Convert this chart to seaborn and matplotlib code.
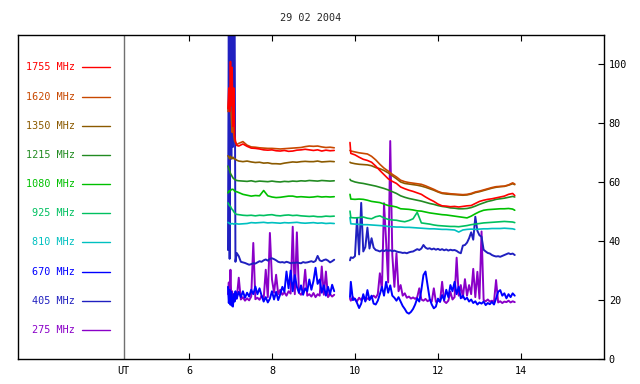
import numpy as np
import pandas as pd
import seaborn as sns
import matplotlib
matplotlib.use("Agg")
import matplotlib.pyplot as plt
import matplotlib.transforms as mtransforms

# channel names and colours (legend order, top to bottom)
freqs = ["1755 MHz", "1620 MHz", "1350 MHz", "1215 MHz", "1080 MHz",
         "925 MHz", "810 MHz", "670 MHz", "405 MHz", "275 MHz"]
colors = ["#ff0000", "#c84800", "#8b5a00", "#228b22", "#00c000",
          "#00c060", "#00c0c0", "#0000ff", "#2020c0", "#8a00c8"]

# time grids (UT hours)
t_burst = [6.94, 6.96, 6.98, 7.00, 7.02, 7.04, 7.06, 7.08, 7.10, 7.12]
t1_coarse = t_burst + [7.15, 7.2, 7.3, 7.4, 7.5, 7.6, 7.7, 7.8, 7.9, 8.0,
                       8.1, 8.2, 8.3, 8.4, 8.5, 8.6, 8.7, 8.8, 8.9, 9.0,
                       9.1, 9.2, 9.3, 9.4, 9.5]
t2_coarse = [9.88, 9.9] + list(np.round(np.arange(10.0, 13.85, 0.1), 1)) + [13.85]
t1_fine = t_burst + list(np.round(np.arange(7.15, 9.51, 0.05), 2))
t2_fine = [9.88] + list(np.round(np.arange(9.90, 13.86, 0.05), 2))

# smooth channels: first block, second block
s1755_a = [85, 92, 84, 101, 86, 99, 79, 92, 76, 74,
           72.5, 72.3, 73.0, 72.2, 71.6, 71.5, 71.3, 71.0, 70.9, 71.0,
           70.7, 70.6, 70.8, 70.5, 70.6, 70.9, 71.0, 71.2, 71.0, 70.8,
           71.0, 70.6, 70.9, 70.7, 70.8]
s1755_b = [73.5, 69.8,
           69.3, 68.5, 67.8, 67.4, 66.8, 65.5, 64.0, 62.6, 61.2, 60.3,
           59.6, 58.4, 57.8, 57.3, 56.9, 56.4, 55.9, 55.0, 54.2, 53.5,
           52.6, 52.0, 51.9, 51.7, 51.8, 51.6, 51.8, 52.0, 52.1, 52.8,
           53.5, 53.9, 54.2, 54.4, 54.7, 55.0, 55.3, 55.9, 56.2, 55.5]
s1620_a = [84, 88, 85, 88, 82, 77, 80, 76, 74, 73.5,
           72.8, 73.2, 73.8, 72.6, 72.0, 71.9, 71.7, 71.6, 71.5, 71.5,
           71.4, 71.3, 71.4, 71.5, 71.6, 71.7, 71.8, 72.1, 72.3, 72.2,
           72.3, 72.0, 71.8, 71.9, 71.7]
s1620_b = [70.8, 70.6,
           70.3, 70.0, 69.8, 69.6, 68.8, 67.6, 66.1, 64.8, 63.8, 62.7,
           61.8, 60.7, 60.2, 59.9, 59.7, 59.5, 59.3, 58.8, 58.2, 57.6,
           56.9, 56.4, 56.3, 56.1, 56.0, 55.9, 55.8, 55.9, 56.2, 56.7,
           57.0, 57.4, 57.8, 58.2, 58.5, 58.6, 58.7, 59.1, 59.8, 59.4]
s1350_a = [69.0, 68.5, 68.0, 68.8, 68.3, 68.0, 68.5, 68.0, 68.0, 67.8,
           67.5, 67.2, 67.0, 67.2, 66.9, 66.7, 66.8, 66.5, 66.6, 66.3,
           66.3, 66.2, 66.5, 66.7, 66.9, 66.8, 67.0, 67.1, 67.0, 67.0,
           67.2, 66.9, 67.0, 67.1, 67.0]
s1350_b = [66.8, 66.6,
           66.3, 66.1, 66.0, 65.9, 65.6, 65.0, 64.6, 64.0, 63.2, 62.2,
           61.2, 60.1, 59.6, 59.4, 59.2, 59.0, 58.7, 58.3, 57.8, 57.3,
           56.7, 56.2, 56.0, 55.9, 55.8, 55.7, 55.6, 55.7, 56.0, 56.5,
           56.8, 57.2, 57.6, 58.0, 58.3, 58.5, 58.6, 59.0, 59.5, 59.2]
s1215_a = [65.5, 64.5, 64.0, 63.0, 62.5, 62.0, 61.5, 61.2, 61.0, 60.8,
           60.6, 60.5, 60.4, 60.3, 60.5, 60.2, 60.4, 60.3, 60.2, 60.4,
           60.2, 60.1, 60.3, 60.2, 60.4, 60.3, 60.5, 60.4, 60.6, 60.5,
           60.4, 60.6, 60.5, 60.4, 60.5]
s1215_b = [61.0, 60.6,
           60.1, 59.8, 59.6, 59.3, 59.0, 58.7, 58.3, 57.9, 57.4, 56.8,
           56.2, 55.4, 54.9, 54.5, 54.2, 53.9, 53.6, 53.2, 52.8, 52.5,
           52.1, 51.8, 51.6, 51.3, 51.2, 51.0, 51.0, 51.1, 51.4, 51.9,
           52.5, 53.0, 53.5, 53.8, 54.2, 54.4, 54.6, 54.9, 55.2, 55.0]
s1080_a = [56.4, 57.0, 56.8, 57.2, 57.5, 57.6, 57.6, 57.4, 57.0, 56.8,
           56.8, 56.5, 55.9, 55.6, 55.3, 55.5, 55.4, 57.2, 55.4, 55.0,
           54.8, 54.9, 55.1, 55.3, 55.3, 55.0, 55.1, 55.0, 54.9, 55.0,
           55.2, 55.0, 55.1, 55.0, 55.1]
s1080_b = [55.9, 54.3,
           54.2, 54.3, 54.2, 53.9, 53.5, 53.3, 53.1, 52.6, 52.1, 51.9,
           51.6, 51.0, 50.9, 50.8, 50.6, 50.3, 50.2, 49.9, 49.6, 49.4,
           49.2, 49.0, 48.9, 48.7, 48.5, 48.3, 48.1, 47.9, 48.5, 49.3,
           50.0, 50.5, 50.7, 50.8, 50.9, 51.0, 51.0, 51.1, 50.9, 50.5]
s925_a = [53.0, 52.5, 52.0, 51.8, 51.2, 50.8, 50.5, 50.0, 49.6, 49.3,
          49.1, 49.0, 48.8, 48.7, 48.8, 48.6, 48.8, 48.7, 48.9, 49.0,
          48.7, 48.6, 48.8, 48.9, 48.7, 48.8, 48.6, 48.5, 48.4, 48.5,
          48.3, 48.3, 48.5, 48.4, 48.5]
s925_b = [50.2, 48.0,
          47.9, 48.0, 48.2, 47.8, 47.6, 48.3, 48.6, 47.9, 47.4, 47.2,
          47.1, 46.8, 46.6, 47.0, 47.6, 49.8, 46.2, 46.0, 45.8, 45.5,
          45.3, 45.2, 45.1, 45.0, 45.0, 44.9, 45.1, 45.3, 45.6, 45.8,
          46.0, 46.2, 46.3, 46.4, 46.5, 46.6, 46.7, 46.6, 46.5, 46.3]
s810_a = [46.4, 46.2, 46.0, 45.8, 45.9, 46.0, 45.9, 45.8, 45.9, 46.0,
          45.9, 45.8, 45.9, 46.0, 46.3, 46.2, 46.3, 46.4, 46.2, 46.3,
          46.2, 46.1, 46.3, 46.2, 46.3, 46.4, 46.2, 46.1, 46.2, 46.3,
          46.1, 46.2, 46.0, 46.1, 46.0]
s810_b = [48.0, 45.9,
          45.8, 45.7, 45.6, 45.6, 45.5, 45.4, 45.3, 45.2, 45.0, 44.9,
          44.8, 44.8, 44.7, 44.7, 44.6, 44.5, 44.4, 44.3, 44.2, 44.2,
          44.1, 44.0, 44.0, 43.9, 43.8, 43.1, 43.8, 44.0, 44.1, 44.0,
          44.1, 44.2, 44.2, 44.3, 44.3, 44.3, 44.4, 44.3, 44.2, 44.0]

# noisy channels (finer sampling)
s670_a = [24.5, 19.0, 23.5, 18.4, 22.8, 18.0, 17.8, 22.0, 19.5, 23.0,
          20.5, 22.8, 21.0, 23.0, 20.8, 22.5, 21.2, 23.5, 22.0, 24.6,
          22.0, 24.0, 21.5, 19.5, 21.0, 19.2, 20.5, 23.0, 20.2, 22.8,
          20.0, 22.0, 24.5, 22.8, 29.7, 24.0, 30.0, 23.0, 28.5, 24.5,
          22.5, 25.0, 21.8, 24.0, 23.0, 27.0, 23.5, 26.5, 31.0, 25.5,
          27.0, 22.5, 25.0, 21.5, 24.5, 22.0, 25.2, 23.0]
s670_b = [21.0,
          26.2, 20.0, 20.5, 19.0, 17.3, 18.8, 22.0, 19.5, 23.4, 20.0,
          21.5, 18.8, 18.5, 19.8, 22.0, 24.5, 21.5, 26.2, 22.5, 25.0,
          21.5, 20.8, 19.8, 21.0, 19.5, 18.0, 17.0, 15.8, 15.4, 16.0,
          17.0, 18.5, 20.6, 19.5, 23.5, 28.5, 29.7, 25.0, 20.5, 18.5,
          17.2, 17.8, 20.5, 19.4, 21.7, 20.0, 23.5, 21.0, 25.1, 23.0,
          26.2, 22.0, 24.5, 20.6, 21.5, 20.2, 20.8, 19.5, 20.2, 19.0,
          19.6, 18.5, 19.2, 18.8, 19.5, 18.3, 19.0, 18.6, 19.4, 18.5,
          20.5, 22.8, 23.4, 21.5, 22.3, 20.6, 22.0, 21.0, 22.3, 21.5]
s405_a = [37, 120, 34, 120, 68, 120, 72, 120, 120, 33,
          36.0, 34.9, 33.0, 32.8, 32.6, 32.3, 32.0, 32.2, 32.5, 32.4,
          32.8, 33.2, 33.0, 33.5, 33.8, 33.4, 34.0, 34.2, 33.9, 33.5,
          33.0, 32.8, 32.9, 32.7, 33.0, 32.8, 32.5, 32.7, 32.6, 32.8,
          32.6, 32.5, 32.9, 32.7, 32.8, 33.0, 33.2, 32.9, 33.3, 35.0,
          33.5, 33.2, 33.6, 33.8, 33.4, 32.8, 33.2, 33.7]
s405_b = [33.5,
          34.5, 34.3, 34.9, 47.8, 35.5, 53.0, 36.5, 38.0, 44.6, 37.5,
          41.0, 37.8, 37.0, 36.8, 36.5, 36.9, 36.6, 37.0, 36.7, 36.9,
          36.6, 36.8, 36.5, 36.3, 36.2, 36.0, 36.1, 35.9, 36.2, 36.4,
          36.5, 36.9, 37.3, 37.0, 37.5, 38.7, 37.8, 37.4, 37.6, 37.2,
          37.5, 37.1, 37.4, 37.0, 37.3, 36.9, 37.2, 36.8, 37.1, 36.9,
          37.0, 36.7, 36.2, 35.9, 38.5, 38.7, 39.5, 41.0, 43.0, 40.5,
          48.3, 43.5, 42.0, 41.5, 37.1, 36.5, 36.0, 35.8, 35.3, 35.0,
          34.8, 34.9, 34.7, 35.0, 35.3, 35.6, 35.9, 35.6, 35.8, 35.3]
s275_a = [22, 26, 21, 30.3, 20.5, 23, 19.5, 22, 20, 21.5,
          20.5, 27.6, 20.2, 21.0, 19.8, 20.6, 19.9, 21.2, 39.4, 20.3,
          20.8, 20.1, 21.5, 20.4, 30.3, 21.0, 42.8, 27.0, 22.5, 28.6,
          22.0, 23.5, 21.8, 22.6, 21.5, 23.0, 22.2, 44.9, 22.0, 43.0,
          22.5, 21.8, 23.0, 30.3, 21.5, 22.0, 21.2, 22.4, 21.0, 22.0,
          21.5, 31.4, 21.8, 29.7, 21.0, 22.0, 21.2, 21.8]
s275_b = [20.5,
          19.8, 21.0, 20.2, 19.6, 20.8, 20.0, 21.2, 19.8, 20.6, 20.3,
          20.9, 21.5, 20.8, 22.0, 29.1, 23.5, 52.9, 40.1, 26.0, 74.0,
          35.3, 24.5, 35.9, 23.0, 25.1, 21.5, 22.3, 20.8, 21.2, 20.5,
          20.9, 20.4, 21.0, 24.0, 20.2, 19.8, 20.4, 19.6, 20.1, 19.5,
          24.0, 19.4, 19.8, 19.5, 26.2, 19.6, 19.0, 19.8, 22.8, 20.2,
          21.0, 34.4, 21.5, 25.1, 20.8, 27.1, 21.5, 25.1, 22.0, 30.6,
          21.0, 29.6, 20.5, 43.3, 20.0, 19.6, 20.2, 19.5, 19.8, 19.4,
          26.8, 19.2, 19.6, 19.0, 19.5, 19.3, 19.8, 19.2, 19.6, 19.3]

smooth = {"1755 MHz": (s1755_a, s1755_b), "1620 MHz": (s1620_a, s1620_b),
          "1350 MHz": (s1350_a, s1350_b), "1215 MHz": (s1215_a, s1215_b),
          "1080 MHz": (s1080_a, s1080_b), "925 MHz": (s925_a, s925_b),
          "810 MHz": (s810_a, s810_b)}
noisy = {"670 MHz": (s670_a, s670_b), "405 MHz": (s405_a, s405_b),
         "275 MHz": (s275_a, s275_b)}

rows = []


def add(name, seg, ts, vs):
    if len(ts) != len(vs):
        raise ValueError(f"{name} seg {seg}: {len(ts)} times vs {len(vs)} values")
    for t, v in zip(ts, vs):
        rows.append((name, seg, t, v))


for name, (a, b) in smooth.items():
    add(name, 1, t1_coarse, a)
    add(name, 2, t2_coarse, b)
for name, (a, b) in noisy.items():
    add(name, 1, t1_fine, a)
    add(name, 2, t2_fine, b)

df = pd.DataFrame(rows, columns=["freq", "seg", "t", "v"])
pal = dict(zip(freqs, colors))

sns.set_style("white")
plt.rcParams["font.family"] = ["DejaVu Sans Mono"]
fs = 7.3

fig = plt.figure(figsize=(6.4, 3.84), dpi=100)
ax = fig.add_axes([0.0281, 0.0651, 0.9156, 0.8438])

# low frequencies first so the high ones sit on top
sns.lineplot(data=df[df["freq"].isin(noisy.keys())], x="t", y="v", hue="freq",
             units="seg", estimator=None, sort=False, palette=pal,
             hue_order=["275 MHz", "405 MHz", "670 MHz"], legend=False,
             lw=1.4, ax=ax)
sns.lineplot(data=df[df["freq"].isin(smooth.keys())], x="t", y="v", hue="freq",
             units="seg", estimator=None, sort=False, palette=pal,
             hue_order=freqs[:7][::-1], legend=False, lw=1.2, ax=ax)

ax.axvline(4.43, color="#707070", lw=1)

# channel key on the left
trans = mtransforms.blended_transform_factory(ax.transAxes, ax.transData)
for i, (name, col) in enumerate(zip(freqs, colors)):
    y = 99 - 9.9 * i
    ax.text(0.0973, y, name, color=col, ha="right", va="center",
            transform=trans, fontsize=fs)
    ax.plot([0.109, 0.157], [y, y], color=col, lw=1, transform=trans)

ax.set_xlim(1.88, 16.0)
ax.set_ylim(0, 110)
ax.set_xticks([4.43, 6, 8, 10, 12, 14])
ax.set_xticklabels(["UT", "6", "8", "10", "12", "14"])
ax.tick_params(axis="x", direction="in", top=True, bottom=True, length=4,
               width=0.8, pad=5, labelsize=fs, colors="black")
xt = ax.xaxis.get_major_ticks()
xt[0].tick1line.set_visible(False)
xt[0].tick2line.set_visible(False)

ax.yaxis.tick_right()
ax.set_yticks(range(0, 101, 20))
ax.tick_params(axis="y", direction="in", left=False, right=True, length=4,
               width=0.8, pad=3.5, labelsize=fs, colors="black")
ax.set_xlabel("")
ax.set_ylabel("")
for sp in ax.spines.values():
    sp.set_visible(True)
    sp.set_color("black")
    sp.set_linewidth(1)

ax.set_title("29 02 2004", fontsize=fs, pad=10)

fig.savefig("out.png", dpi=100)
